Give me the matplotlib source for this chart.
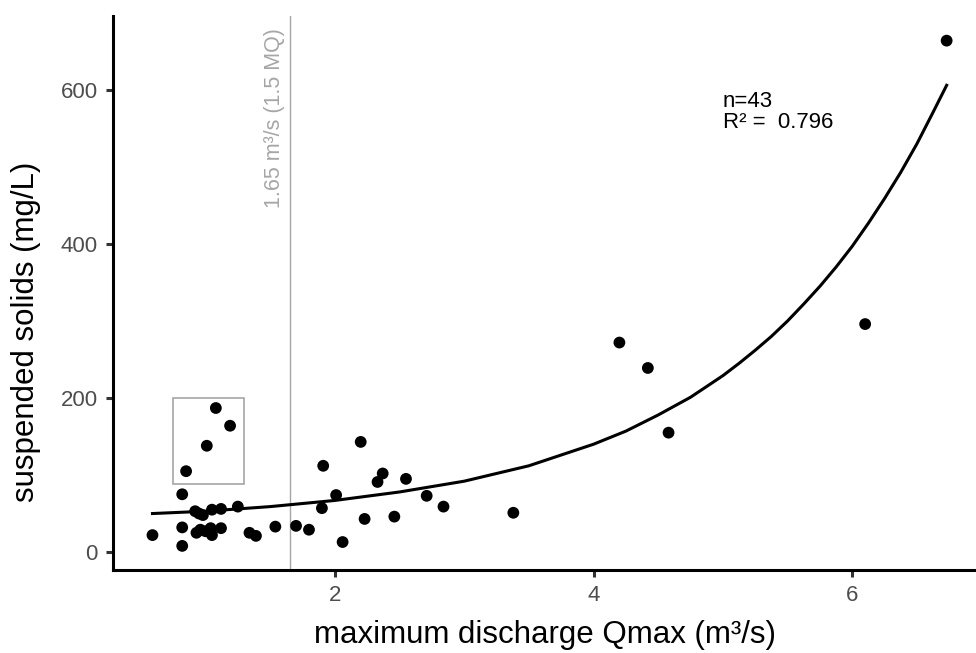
"""Suspended solids vs. maximum discharge with exponential fit."""
import matplotlib
matplotlib.use("Agg")
import matplotlib.pyplot as plt
import matplotlib.patches as mpatches

plt.rcParams["font.family"] = ["Liberation Sans", "DejaVu Sans"]

# observed events: max discharge (m³/s) and suspended solids (mg/L)
q_max = [1.08, 1.19, 1.01, 0.85, 0.82, 0.59, 0.82, 0.82, 0.92, 0.98,
         1.05, 1.12, 1.25, 0.93, 0.96, 1.04, 1.05, 1.12, 1.34, 1.39,
         1.54, 1.70, 1.80, 1.91, 1.90, 2.20, 2.37, 2.33, 2.55, 2.01,
         2.71, 2.84, 3.38, 2.23, 2.46, 2.06, 4.20, 4.42, 4.58, 6.10,
         6.73, 0.95, 1.00]
ss = [187, 164, 138, 105, 75, 22, 8, 32, 53, 48,
      55, 56, 59, 25, 29, 31, 22, 31, 25, 21,
      33, 34, 29, 112, 57, 143, 102, 91, 95, 74,
      73, 59, 51, 43, 46, 13, 272, 239, 155, 296,
      664, 50, 27]

# fitted curve
fit_q = [0.59, 1.0, 1.5, 2.0, 2.5, 3.0, 3.5, 4.0, 4.25, 4.5, 4.75, 5.0,
         5.125, 5.25, 5.375, 5.5, 5.625, 5.75, 5.875, 6.0, 6.125, 6.25,
         6.375, 6.5, 6.625, 6.73]
fit_ss = [50, 53, 59, 67, 78, 92, 112, 140, 157, 178, 201, 229,
          245, 262, 280, 300, 322, 345, 370, 397, 427, 459,
          493, 530, 571, 606]

MQ_LINE = 1.65
x_ticks = [2, 4, 6]
y_ticks = [0, 200, 400, 600]

fig = plt.figure(figsize=(9.76, 6.53), dpi=100)
ax = fig.add_axes([0.1158, 0.127, 0.8842, 0.8485])

ax.axvline(MQ_LINE, color="#a6a6a6", lw=1.0, zorder=1)
ax.text(1.53, 680, "1.65 m³/s (1.5 MQ)", rotation=90, ha="center", va="top",
        fontsize=15.5, color="#a6a6a6")

box = mpatches.Rectangle((0.75, 88), 0.55, 112, fill=False,
                         edgecolor="#a6a6a6", lw=1.2, zorder=1)
ax.add_patch(box)

ax.scatter(q_max, ss, s=72, color="black", edgecolors="none", zorder=3)
ax.plot(fit_q, fit_ss, color="black", lw=2.2, zorder=2)

ax.text(5.0, 598, "n=43\nR² =  0.796", ha="left", va="top",
        fontsize=16, linespacing=0.95)

ax.set_xlim(0.285, 6.957)
ax.set_ylim(-23.4, 696)
ax.set_xticks(x_ticks)
ax.set_yticks(y_ticks)

for side in ("top", "right"):
    ax.spines[side].set_visible(False)
for side in ("left", "bottom"):
    ax.spines[side].set_linewidth(2.2)
    ax.spines[side].set_color("black")

ax.tick_params(axis="both", length=5, width=2.2, color="#333333",
               labelsize=16, labelcolor="#4d4d4d", pad=6)

ax.set_xlabel("maximum discharge Qmax (m³/s)", fontsize=22.5)
ax.set_ylabel("suspended solids (mg/L)", fontsize=22.5)
ax.xaxis.set_label_coords(0.5, -0.09)
ax.yaxis.set_label_coords(-0.083, 0.43)

plt.savefig("out.png", dpi=100)
plt.close()
